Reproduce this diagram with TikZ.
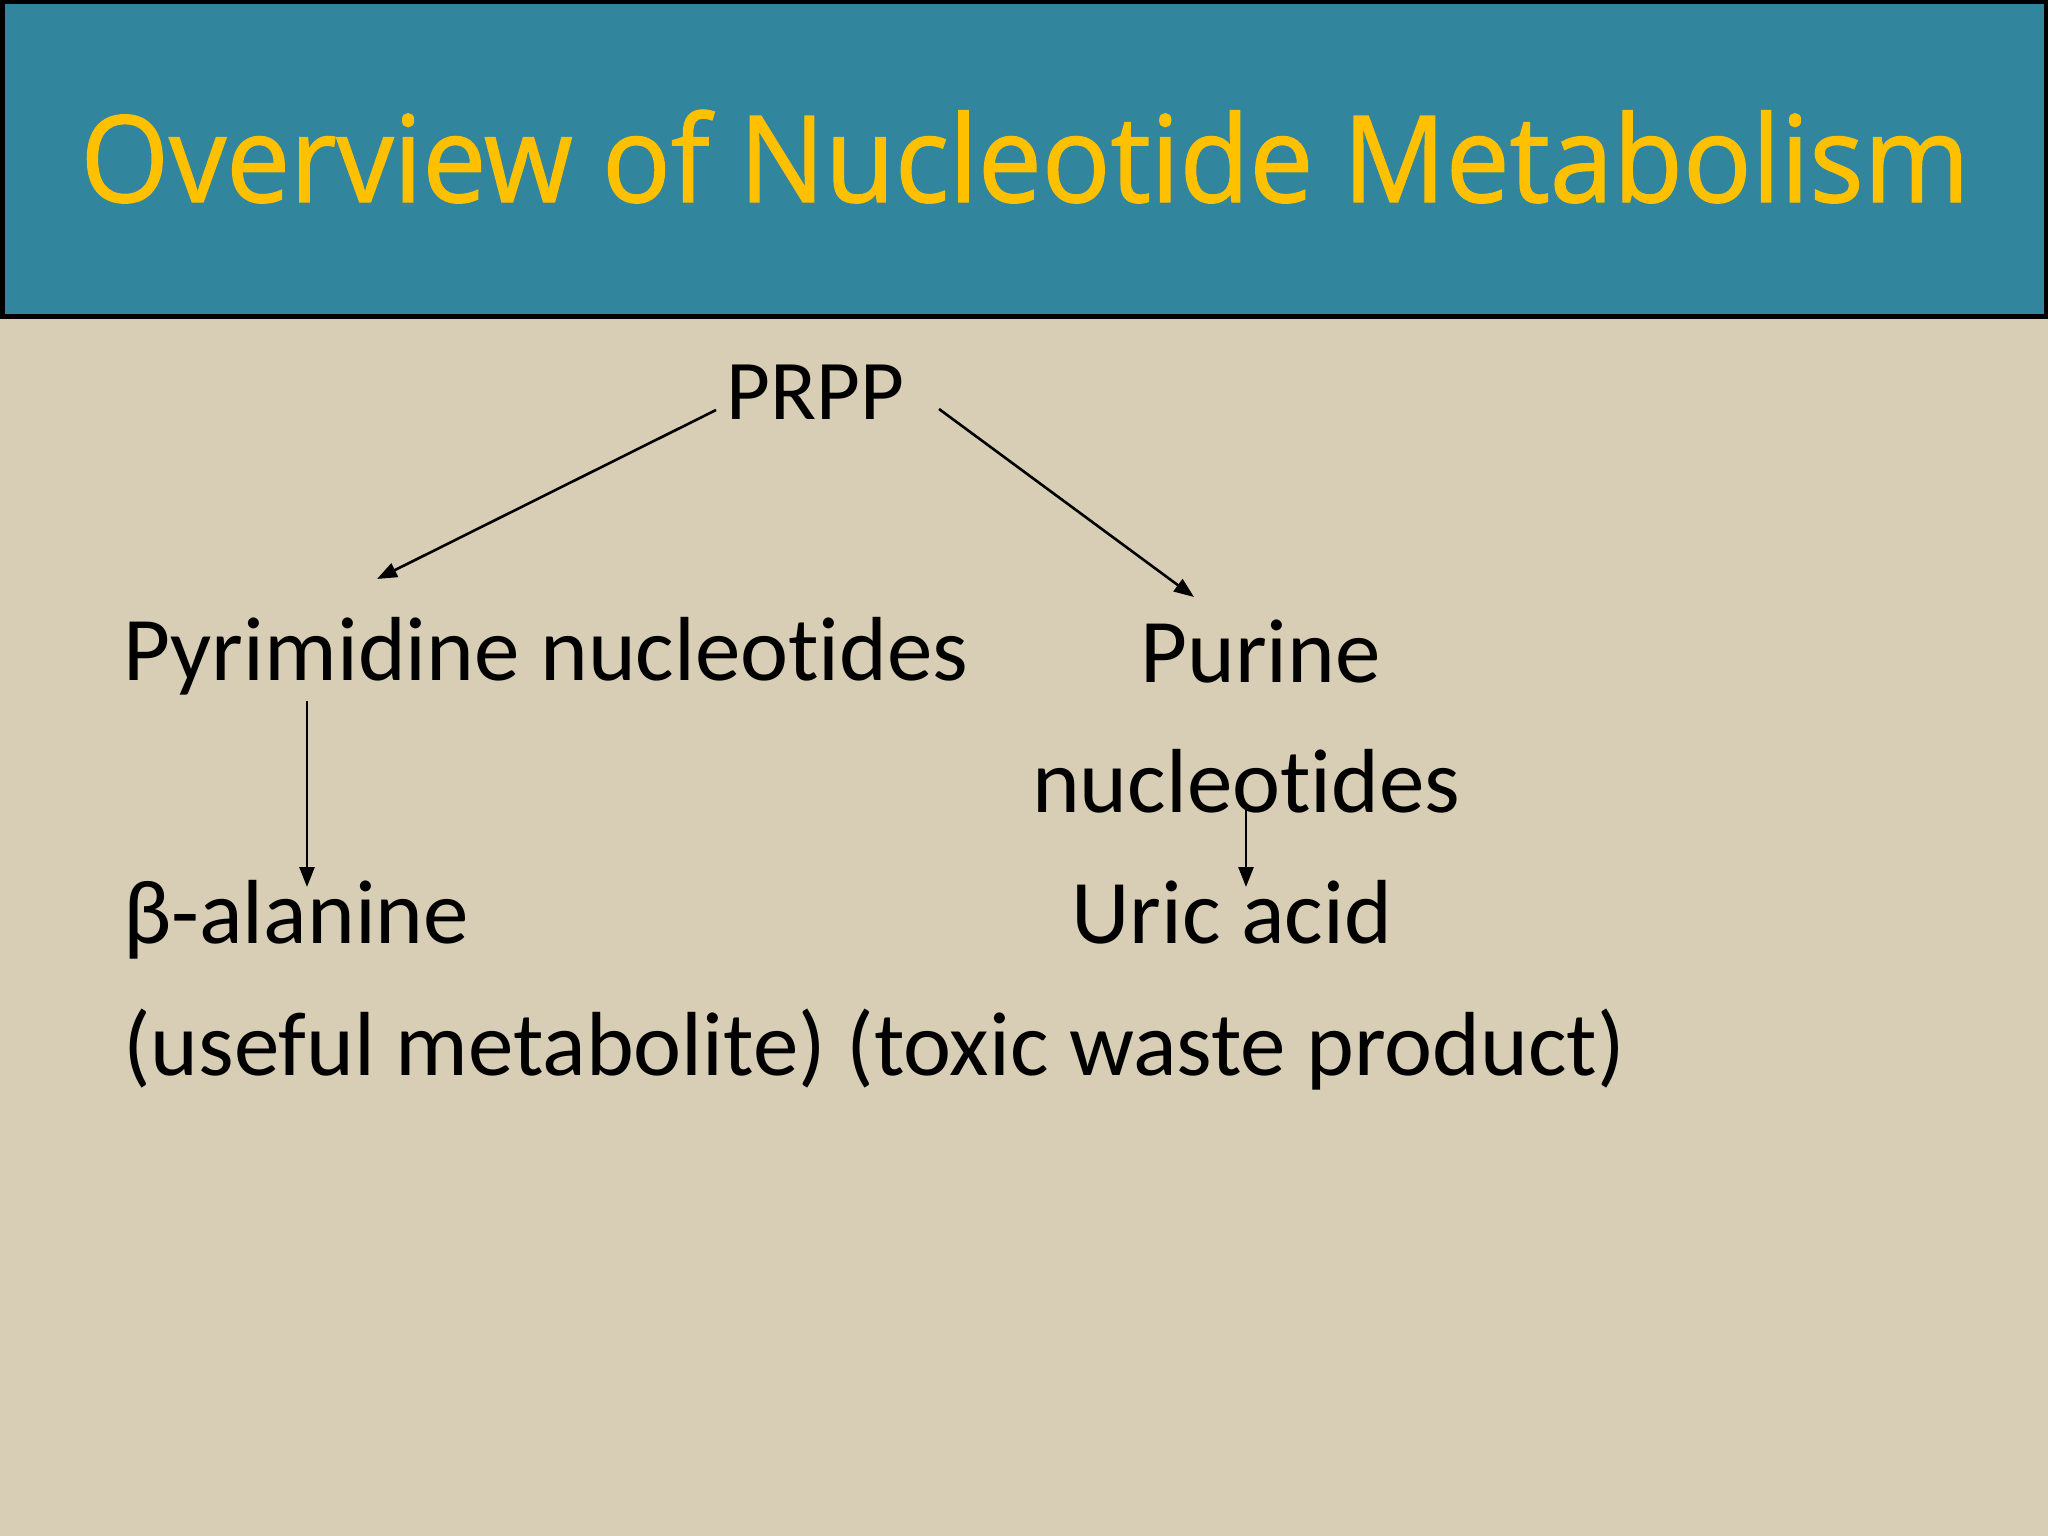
\documentclass[tikz,border=0pt]{standalone}
\usepackage{fontspec}
\setmainfont{Carlito}[Ligatures=NoCommon]
\newfontfamily\titlefont{Open Sans}[FakeBold=1.2]
\usetikzlibrary{arrows.meta}
\definecolor{bgbeige}{RGB}{215,206,181}
\definecolor{barteal}{RGB}{49,133,156}
\definecolor{titleyellow}{RGB}{255,192,0}
\tikzset{
  body/.style={anchor=base west, inner sep=0pt, font=\fontsize{91}{100}\selectfont, text=black},
  arr/.style={draw=black, line width=2.6pt, -{Triangle[length=20pt,width=15pt]}},
}
\begin{document}
\begin{tikzpicture}[x=1pt,y=-1pt]
\useasboundingbox (0,0) rectangle (2048,1536);
\fill[bgbeige] (0,0) rectangle (2048,1536);
\fill[barteal, draw=black, line width=5pt] (2,2) rectangle (2046,316);
\node[anchor=base, inner sep=0pt, text=titleyellow] (title) at (1025,202)
  {\resizebox{1889pt}{92pt}{\titlefont Overview of Nucleotide Metabolism}};

\node[body, font=\fontsize{85}{95}\selectfont] (prpp) at (726,419) {PRPP};
\node[body] (pyr) at (123,680) {Pyrimidine nucleotides};
\node[body] (pur) at (1140,682) {Purine};
\node[body] (nuc) at (1032,812) {nucleotides};
\node[body] (bala) at (123,943) {β-alanine};
\node[body] (uric) at (1071,943) {Uric acid};
\node[body] (notes) at (123,1075) {(useful metabolite) (toxic waste product)};

\coordinate (prppL) at (716,410);
\coordinate (prppR) at (939,409);
\coordinate (pyrIn) at (377,579);
\coordinate (purIn) at (1194,597);
\coordinate (pyrOut) at (307,701);
\coordinate (balaIn) at (307,887);
\coordinate (nucOut) at (1246,807);
\coordinate (uricIn) at (1246,887);

\draw[arr] (prppL) -- (pyrIn);
\draw[arr] (prppR) -- (purIn);
\draw[arr] (pyrOut) -- (balaIn);
\draw[arr] (nucOut) -- (uricIn);
\end{tikzpicture}
\end{document}
